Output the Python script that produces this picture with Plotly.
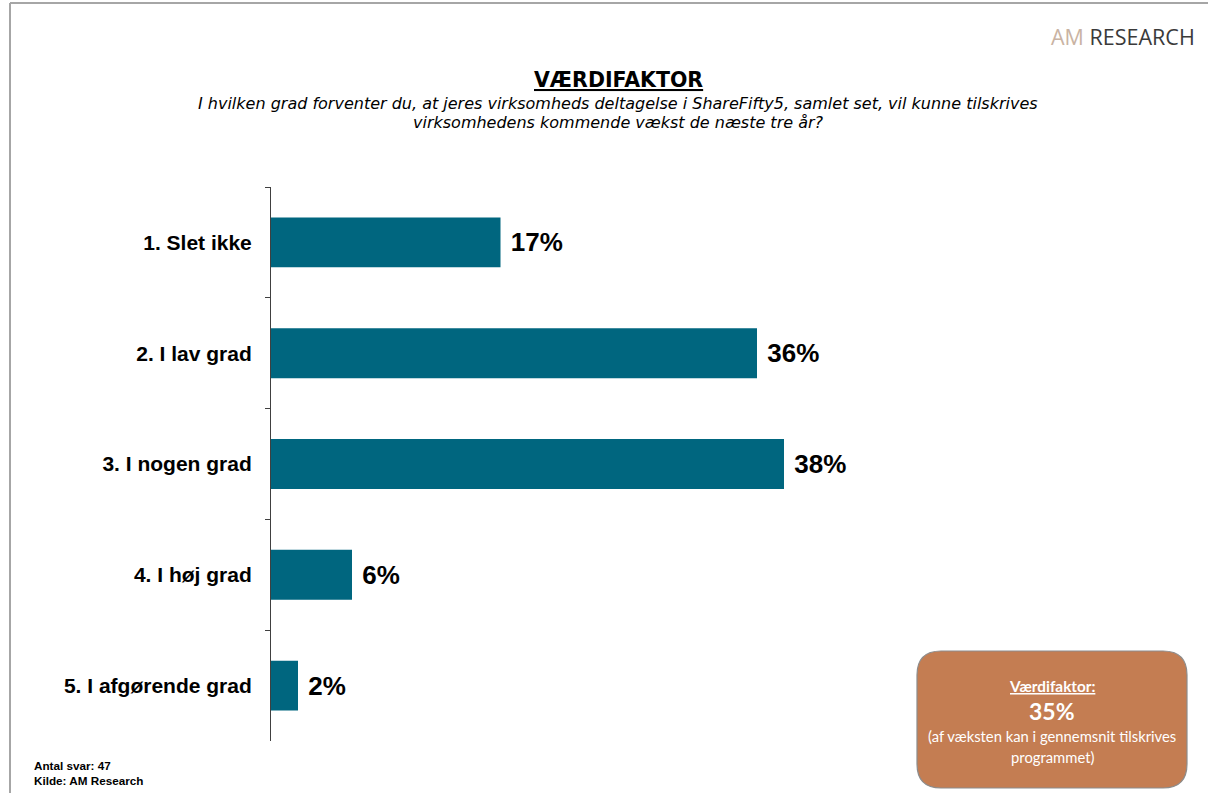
import plotly.graph_objects as go

categories = ["1. Slet ikke", "2. I lav grad", "3. I nogen grad", "4. I høj grad", "5. I afgørende grad"]
values = [17, 36, 38, 6, 2]

title_text = "VÆRDIFAKTOR"
subtitle_lines = [
    "I hvilken grad forventer du, at jeres virksomheds deltagelse i ShareFifty5, samlet set, vil kunne tilskrives",
    "virksomhedens kommende vækst de næste tre år?",
]
footer_lines = ["Antal svar: 47", "Kilde: AM Research"]
box_title = "Værdifaktor:"
box_value = "35%"
box_lines = ["(af væksten kan i gennemsnit tilskrives", "programmet)"]

W, H = 1208, 793


def px(x):
    return x / W


def py(y):
    return 1 - y / H


BAR_COLOR = "#00667F"
AXIS_COLOR = "#404040"

fig = go.Figure()
fig.add_trace(go.Bar(
    y=categories,
    x=values,
    orientation="h",
    marker=dict(color=BAR_COLOR, line=dict(width=0)),
    texttemplate="\u00a0%{x}%",
    textposition="outside",
    textfont=dict(family="Liberation Sans", size=26, color="#000000", weight="bold"),
    cliponaxis=False,
    hoverinfo="skip",
))

x_max = 65
fig.update_layout(
    width=W, height=H, autosize=False,
    margin=dict(l=0, r=0, t=0, b=0),
    paper_bgcolor="white", plot_bgcolor="white",
    showlegend=False,
    bargap=0.55,
    xaxis=dict(domain=[px(271), px(271 + x_max * 13.5)], range=[0, x_max],
               visible=False, fixedrange=True),
    yaxis=dict(domain=[py(741), py(187)], autorange="reversed",
               type="category", showline=True, linecolor=AXIS_COLOR, linewidth=1,
               ticks="outside", ticklen=5, tickcolor=AXIS_COLOR, tickwidth=1,
               tickson="boundaries", showgrid=False, fixedrange=True,
               ticklabelstandoff=14,
               tickfont=dict(family="Liberation Sans", size=21, color="#000000", weight="bold")),
)

# frame lines
fig.add_shape(type="line", xref="paper", yref="paper", x0=px(10), x1=px(1208), y0=py(3), y1=py(3),
              line=dict(color="#A6A6A6", width=2))
fig.add_shape(type="line", xref="paper", yref="paper", x0=px(10), x1=px(10), y0=py(3), y1=py(793),
              line=dict(color="#A6A6A6", width=2))

# rounded box
x0, x1, y0, y1, r = 917, 1187, 651, 788, 24
pts = [
    ("M", x0 + r, y0), ("L", x1 - r, y0), ("Q", x1, y0, x1, y0 + r), ("L", x1, y1 - r),
    ("Q", x1, y1, x1 - r, y1), ("L", x0 + r, y1), ("Q", x0, y1, x0, y1 - r), ("L", x0, y0 + r),
    ("Q", x0, y0, x0 + r, y0),
]
path = ""
for p in pts:
    cmd = p[0]
    coords = p[1:]
    segs = []
    for i in range(0, len(coords), 2):
        segs.append(f"{px(coords[i]):.6f},{py(coords[i + 1]):.6f}")
    path += cmd + " " + " ".join(segs) + " "
path += "Z"
fig.add_shape(type="path", xref="paper", yref="paper", path=path,
              fillcolor="#C47D52", line=dict(color="#8C8C8C", width=1.2))

anns = []
# logo
anns.append(dict(text="<span style='color:#C9B3A3'>AM</span> <span style='color:#3A3A3A'>RESEARCH</span>",
                 x=px(1049), y=py(37), xanchor="left", yanchor="middle",
                 font=dict(family="Open Sans", size=21.5)))
# title
anns.append(dict(text=f"<b><u>{title_text}</u></b>", x=px(618), y=py(80), xanchor="center", yanchor="middle",
                 font=dict(family="DejaVu Sans", size=20.5, color="#000000")))
for i, line in enumerate(subtitle_lines):
    anns.append(dict(text=f"<i>{line}</i>", x=px(618), y=py(103 + 20 * i), xanchor="center", yanchor="middle",
                     font=dict(family="DejaVu Sans", size=16, color="#000000")))
# footer
for i, line in enumerate(footer_lines):
    anns.append(dict(text=f"<b>{line}</b>", x=px(32), y=py(765 + 15 * i), xanchor="left", yanchor="middle",
                     font=dict(family="Liberation Sans", size=11.7, color="#000000")))
# box text
cx = px(1052)
anns.append(dict(text=f"<b><u>{box_title}</u></b>", x=cx, y=py(686), xanchor="center", yanchor="middle",
                 font=dict(family="Lato", size=15.3, color="white")))
anns.append(dict(text=f"<b>{box_value}</b>", x=cx, y=py(711), xanchor="center", yanchor="middle",
                 font=dict(family="Lato", size=23, color="white")))
for i, line in enumerate(box_lines):
    anns.append(dict(text=line, x=cx, y=py(736 + 21 * i), xanchor="center", yanchor="middle",
                     font=dict(family="Lato", size=14.8, color="white")))
for a in anns:
    a.update(xref="paper", yref="paper", showarrow=False)
fig.update_layout(annotations=anns)

fig.write_html("out.html", config={"displayModeBar": False},
               post_script="document.body.style.margin='0';document.body.style.padding='0';")
